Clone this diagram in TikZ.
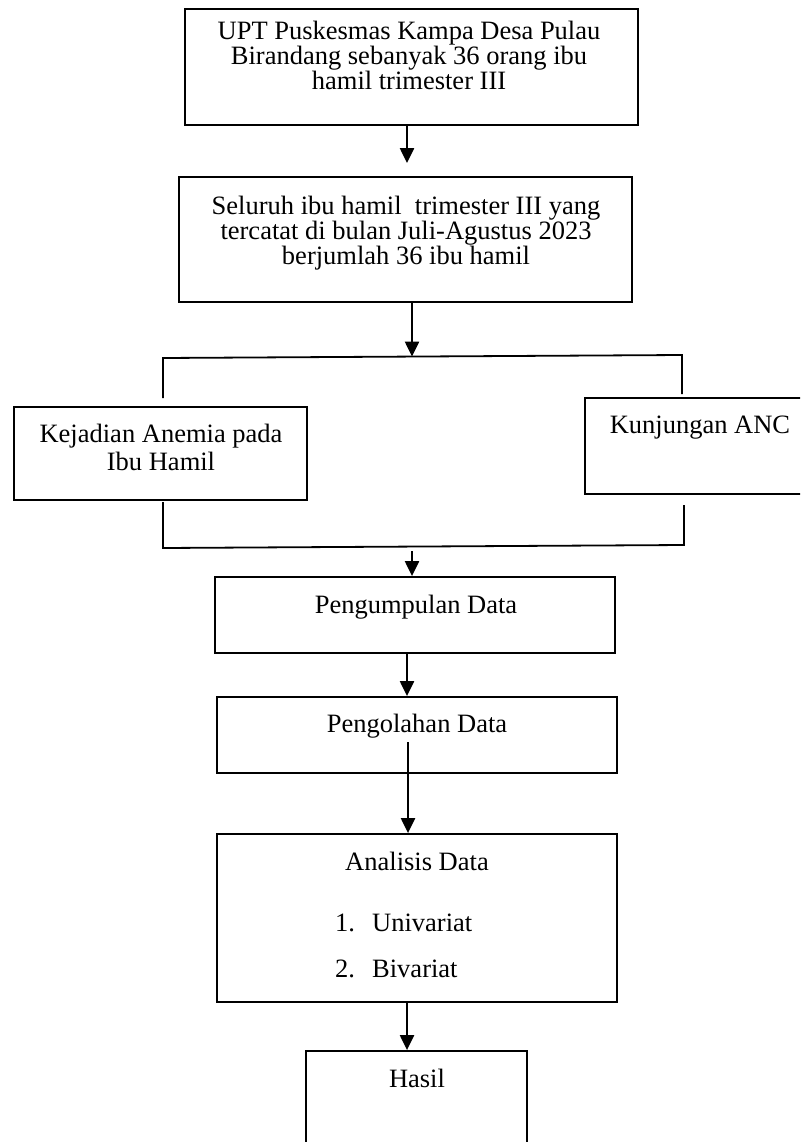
\documentclass[tikz,border=0pt]{standalone}
\usepackage{fontspec}
\setmainfont{Liberation Serif}
\usetikzlibrary{arrows.meta}
\begin{document}
\begin{tikzpicture}[x=1pt,y=-1pt,
  box/.style={draw, line width=1.8pt, inner sep=0pt, rectangle},
  ln/.style={line width=1.8pt},
  arr/.style={line width=2.2pt, -{Triangle[length=15pt,width=14pt]}},
  txt/.style={font=\fontsize{26.5}{25}\selectfont, inner sep=0pt, anchor=base},
  txtl/.style={txt, anchor=base west}]
\useasboundingbox (0,0) rectangle (800,1142);
\clip (0,0) rectangle (800,1142);
\fill[white] (0,0) rectangle (800,1142);
% boxes
\node[box, minimum width=453pt, minimum height=116pt] (b1) at (411.5,67) {};
\node[box, minimum width=453pt, minimum height=125pt] (b2) at (405.5,239.5) {};
\node[box, minimum width=293pt, minimum height=93pt] (b3) at (160.5,453.5) {};
\node[box, minimum width=235pt, minimum height=96pt] (b4) at (702.5,446) {};
\node[box, minimum width=400pt, minimum height=76pt] (b5) at (415,615) {};
\node[box, minimum width=400pt, minimum height=76pt] (b6) at (417,735) {};
\node[box, minimum width=400pt, minimum height=168pt] (b7) at (417,918) {};
\node[box, minimum width=221pt, minimum height=119pt] (b8) at (416.5,1110.5) {};
% texts
\node[txt] (t1a) at (409,40) {UPT Puskesmas Kampa Desa Pulau};
\node[txt] (t1b) at (409,65) {Birandang sebanyak 36 orang ibu};
\node[txt] (t1c) at (409,90) {hamil trimester III};
\node[txt] (t2a) at (406,214) {Seluruh ibu hamil\ \ trimester III yang};
\node[txt] (t2b) at (406,239) {tercatat di bulan Juli-Agustus 2023};
\node[txt] (t2c) at (406,264) {berjumlah 36 ibu hamil};
\node[txt] (t3a) at (161,442) {Kejadian Anemia pada};
\node[txt] (t3b) at (161,470) {Ibu Hamil};
\node[txt] (t4) at (700,433) {Kunjungan ANC};
\node[txt] (t5) at (416,613) {Pengumpulan Data};
\node[txt] (t6) at (417,732) {Pengolahan Data};
\node[txt] (t7) at (417,870) {Analisis Data};
\node[txtl] (n1) at (335,931) {1.};
\node[txtl] (u1) at (372,931) {Univariat};
\node[txtl] (n2) at (335,977) {2.};
\node[txtl] (u2) at (372,977) {Bivariat};
\node[txt] (t8) at (417,1087) {Hasil};
% branch coordinates
\coordinate (tl) at (163,358);
\coordinate (tr) at (682,355);
\coordinate (jt) at (412,356.6);
\coordinate (tle) at (163,398);
\coordinate (tre) at (682,394);
\coordinate (bl) at (163,548);
\coordinate (br) at (684,545);
\coordinate (bls) at (163,502);
\coordinate (brs) at (684,505);
\coordinate (a3s) at (412,551);
\coordinate (a5s) at (408,742);
% connectors
\draw[arr, shorten >=13pt] (b1.south -| 407,0) -- (b2.north -| 407,0);
\draw[arr] (b2.south -| 412,0) -- (jt);
\draw[ln] (tle) -- (tl) -- (tr) -- (tre);
\draw[ln] (bls) -- (bl) -- (br) -- (brs);
\draw[arr] (a3s) -- (b5.north -| a3s);
\draw[arr] (b5.south -| 407,0) -- (b6.north -| 407,0);
\draw[arr] (a5s) -- (b7.north -| a5s);
\draw[arr] (b7.south -| 407,0) -- (b8.north -| 407,0);
\end{tikzpicture}
\end{document}
